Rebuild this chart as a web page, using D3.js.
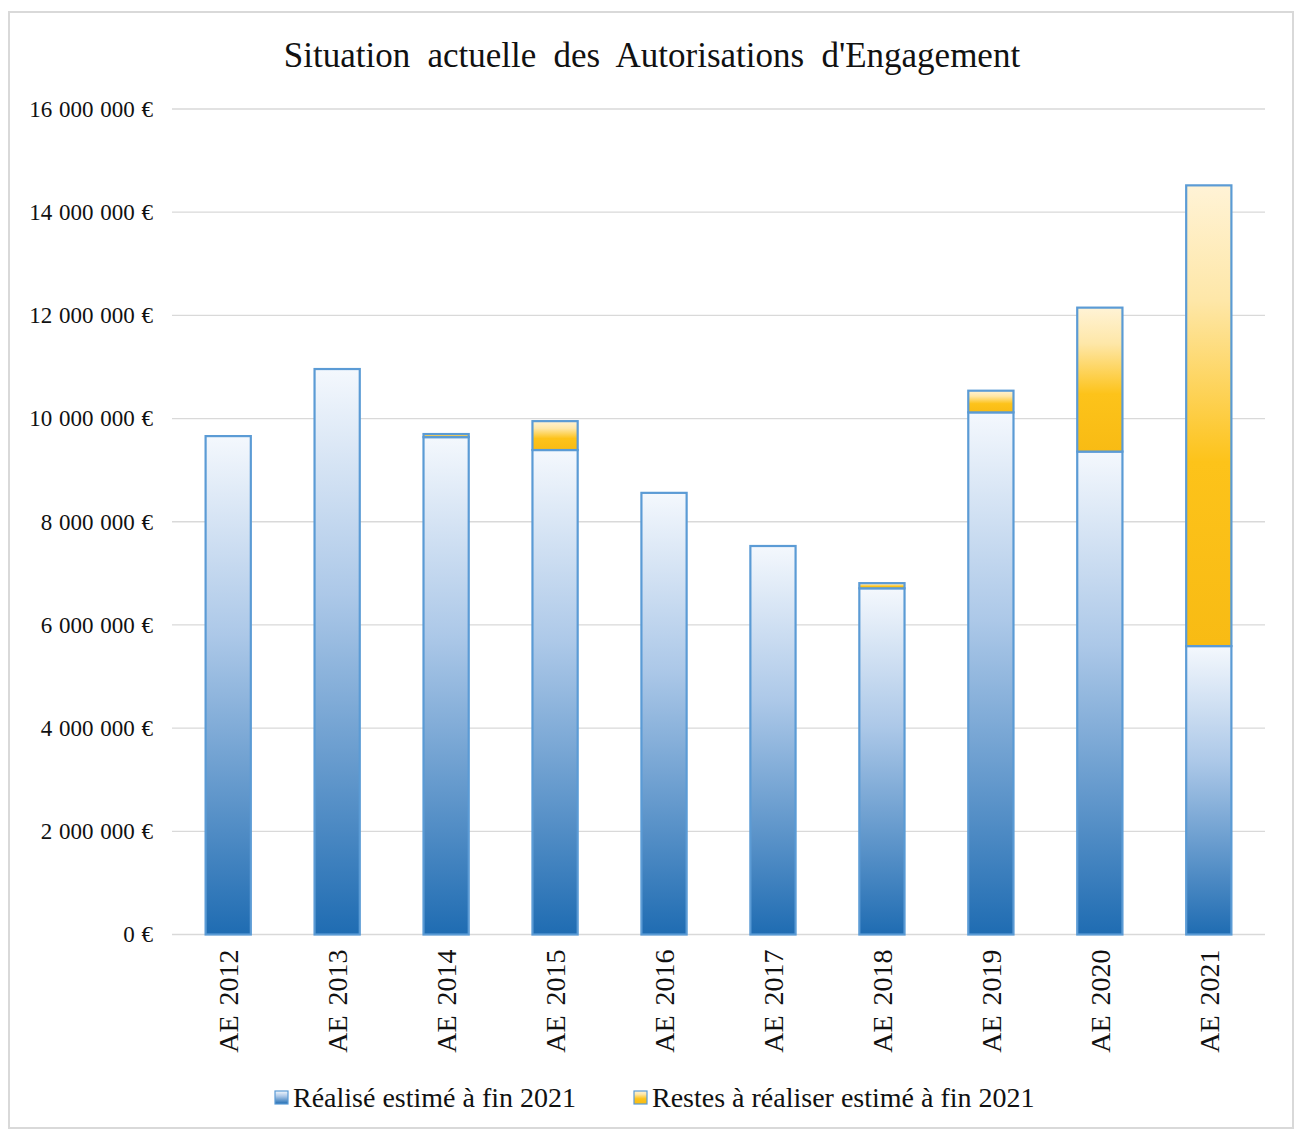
<!DOCTYPE html>
<html><head><meta charset="utf-8">
<script src="https://cdn.jsdelivr.net/npm/d3@7"></script>
<style>body{margin:0;background:#fff}svg{display:block}</style>
</head><body>
<script>
const categories = ["AE 2012","AE 2013","AE 2014","AE 2015","AE 2016","AE 2017","AE 2018","AE 2019","AE 2020","AE 2021"];
const realise = [9660000,10960000,9640000,9390000,8560000,7530000,6710000,10120000,9360000,5590000];
const restes  = [0,0,60000,560000,0,0,100000,420000,2790000,8930000];
const yTicks = [0,2000000,4000000,6000000,8000000,10000000,12000000,14000000,16000000];
const seriesNames = ["Réalisé estimé à fin 2021","Restes à réaliser estimé à fin 2021"];
const title = "Situation actuelle des Autorisations d'Engagement";

const SERIF = "'Liberation Serif', 'Times New Roman', serif";
const W=1300,H=1129;
const svg=d3.select("body").append("svg").attr("width",W).attr("height",H);
const defs=svg.append("defs");
const gb=defs.append("linearGradient").attr("id","gBlue").attr("x1",0).attr("y1",0).attr("x2",0).attr("y2",1);
gb.append("stop").attr("offset","0%").attr("stop-color","#f4f8fd");
gb.append("stop").attr("offset","40%").attr("stop-color","#acc8e8");
gb.append("stop").attr("offset","100%").attr("stop-color","#1f6cb2");
const go=defs.append("linearGradient").attr("id","gOr").attr("x1",0).attr("y1",0).attr("x2",0).attr("y2",1);
go.append("stop").attr("offset","0%").attr("stop-color","#fff3d6");
go.append("stop").attr("offset","25%").attr("stop-color","#fee7a8");
go.append("stop").attr("offset","60%").attr("stop-color","#fdc31a");
go.append("stop").attr("offset","100%").attr("stop-color","#f8bb14");

svg.append("rect").attr("x",9).attr("y",12).attr("width",1284).attr("height",1116)
  .attr("fill","#fff").attr("stroke","#d9d9d9").attr("stroke-width",2);

svg.append("text").attr("x",652).attr("y",67).attr("text-anchor","middle")
  .style("font-family",SERIF).style("font-size","35px").style("word-spacing","8.5px").attr("fill","#111").text(title);

const x=d3.scaleBand().domain(categories).range([174,1263]).paddingInner(0.585).paddingOuter(0.29);
const y=d3.scaleLinear().domain([0,16000000]).range([934.5,109]);

const fmt=v=>d3.format(",")(v).replace(/,/g," ")+" €";
const ga=svg.append("g").attr("transform","translate(172,0)");
ga.call(d3.axisLeft(y).tickValues(yTicks).tickSize(0).tickPadding(19).tickFormat(fmt));
ga.select(".domain").remove();
ga.selectAll("text").style("font-family",SERIF).style("font-size","23px").style("word-spacing","1px").attr("fill","#111");

svg.append("g").selectAll("line").data(yTicks).join("line")
  .attr("x1",172).attr("x2",1265).attr("y1",d=>y(d)).attr("y2",d=>y(d))
  .attr("stroke","#d9d9d9").attr("stroke-width",1.3);

const bw=x.bandwidth();
const gBars=svg.append("g");
categories.forEach((c,i)=>{
  const r=realise[i], s=restes[i];
  gBars.append("rect").attr("x",x(c)).attr("y",y(r)).attr("width",bw).attr("height",y(0)-y(r))
    .attr("fill","url(#gBlue)").attr("stroke","#5b9bd5").attr("stroke-width",2.2);
  if(s>0){
    gBars.append("rect").attr("x",x(c)).attr("y",y(r+s)).attr("width",bw).attr("height",y(r)-y(r+s))
      .attr("fill","url(#gOr)").attr("stroke","#5b9bd5").attr("stroke-width",2.2);
  }
});

const gx=svg.append("g").attr("transform","translate(0,934.5)");
gx.call(d3.axisBottom(x).tickSize(0).tickPadding(0));
gx.select(".domain").remove();
gx.selectAll("text").style("font-family",SERIF).style("font-size","28px").style("word-spacing","3px").attr("fill","#111")
  .attr("text-anchor","end").attr("dy","0.35em").attr("transform","translate(0,15) rotate(-90)").attr("x",0).attr("y",0);

const leg=[{x:275,fill:"url(#gBlue)",t:seriesNames[0]},{x:634,fill:"url(#gOr)",t:seriesNames[1]}];
const gl=svg.append("g");
leg.forEach(l=>{
  gl.append("rect").attr("x",l.x).attr("y",1091).attr("width",13).attr("height",13)
    .attr("fill",l.fill).attr("stroke","#5b9bd5").attr("stroke-width",1.2);
  gl.append("text").attr("x",l.x+18).attr("y",1107).style("font-family",SERIF)
    .style("font-size","28px").attr("fill","#111").text(l.t);
});
</script>
</body></html>
